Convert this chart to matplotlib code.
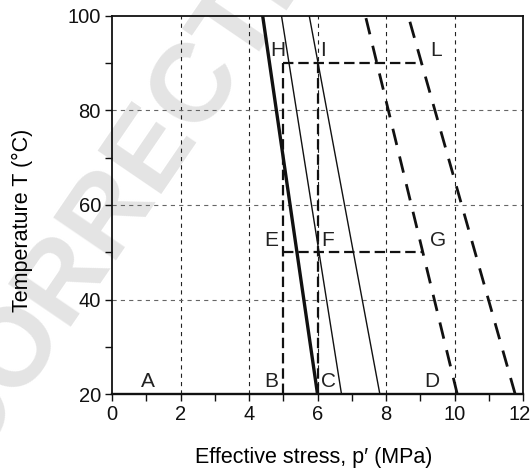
import matplotlib
matplotlib.use("Agg")
import matplotlib.pyplot as plt
from matplotlib.ticker import MultipleLocator
from matplotlib.transforms import ScaledTranslation

plt.rcParams['font.family'] = ['Liberation Sans', 'DejaVu Sans']
plt.rcParams['lines.scale_dashes'] = False

# Temperature range of every line
temps = [20, 100]

# Effective stress (MPa) at 20 °C and at 100 °C
thick_line = [6.0, 4.4]
thin_line_1 = [6.7, 4.95]
thin_line_2 = [7.82, 5.76]
dashed_line_1 = [10.08, 7.40]
dashed_line_2 = [11.77, 8.65]

# Stress paths (p', T)
path_p5 = ([5, 5], [20, 90])
path_p6 = ([6, 6], [20, 90])
path_t90 = ([5, 9.05], [90, 90])
path_t50 = ([5, 9.05], [50, 50])

# State point labels
point_names = ['A', 'B', 'C', 'D', 'E', 'F', 'G', 'H', 'I', 'L']
point_p = [1.05, 4.65, 6.32, 9.33, 4.66, 6.30, 9.53, 4.85, 6.17, 9.46]
point_t = [22.6, 22.6, 22.6, 22.6, 52.4, 52.4, 52.4, 92.8, 92.8, 92.8]

x_ticks = [0, 2, 4, 6, 8, 10, 12]
y_ticks = [20, 40, 60, 80, 100]

fig = plt.figure(figsize=(5.3, 4.7), dpi=100)
ax = fig.add_axes([112 / 530, 1 - 394 / 470, 411 / 530, 378 / 470])

# Faint proof watermark behind the chart
fig.text(-0.221, -0.281, 'UNCORRECTED PROOF', rotation=55.7, rotation_mode='anchor',
         ha='left', va='baseline', fontsize=80, fontweight='bold',
         color='#e4e4e4', zorder=-1)
ax.set_facecolor('none')

ax.set_xlim(0, 12)
ax.set_ylim(20, 100)
ax.set_xticks(x_ticks)
ax.set_yticks(y_ticks)
ax.xaxis.set_minor_locator(MultipleLocator(1))
ax.yaxis.set_minor_locator(MultipleLocator(10))
ax.tick_params(which='both', direction='out', length=5, width=1, colors='#111')
ax.tick_params(axis='x', labelsize=14.5, pad=3)
ax.tick_params(axis='y', labelsize=14.5, pad=3)

# keep the last x tick label inside the figure
last = ax.get_xticklabels()[-1]
last.set_horizontalalignment('right')
last.set_transform(last.get_transform() + ScaledTranslation(0.075, 0, fig.dpi_scale_trans))

for x in x_ticks[1:-1]:
    ax.axvline(x, color='#222', lw=0.8, ls=(0, (3, 3)), zorder=1)
for y in y_ticks[1:-1]:
    ax.axhline(y, color='#666', lw=0.8, ls=(0, (3, 3)), zorder=1)

for s in ax.spines.values():
    s.set_linewidth(1.3)
    s.set_color('#111')
ax.spines['bottom'].set_linewidth(1.7)

ax.plot(thick_line, temps, color='#111', lw=2.4, zorder=3)
ax.plot(thin_line_1, temps, color='#111', lw=1.0, zorder=3)
ax.plot(thin_line_2, temps, color='#111', lw=1.0, zorder=3)
ax.plot(dashed_line_1, temps, color='#111', lw=2.0, ls=(0, (12, 8.5)), zorder=3)
ax.plot(dashed_line_2, temps, color='#111', lw=2.0, ls=(0, (12, 8.5)), zorder=3)

for px, py in (path_p5, path_p6, path_t90, path_t50):
    ax.plot(px, py, color='#111', lw=1.6, ls=(0, (7.5, 3.5)), zorder=3)

for name, px, py in zip(point_names, point_p, point_t):
    ax.text(px, py, name, ha='center', va='center', fontsize=15, color='#222', zorder=4)

ax.set_xlabel('Effective stress, p\u2032 (MPa)', fontsize=15.5)
ax.set_ylabel('Temperature T (\u00b0C)', fontsize=15.5)
ax.xaxis.set_label_coords(0.49, -0.14)
ax.yaxis.set_label_coords(-0.192, 0.46)

fig.savefig('out.png', dpi=100)
